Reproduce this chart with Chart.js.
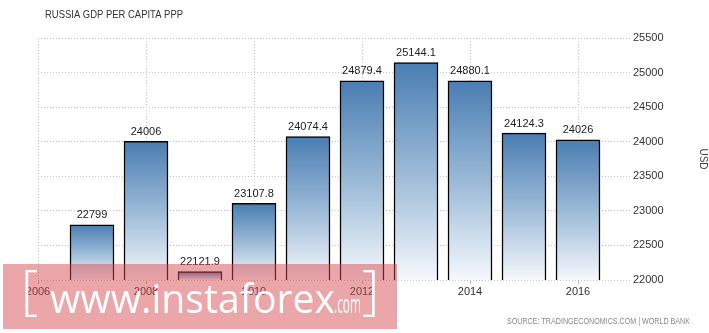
<!DOCTYPE html>
<html>
<head>
<meta charset="utf-8">
<script src="https://cdn.jsdelivr.net/npm/chart.js@4.4.1/dist/chart.umd.min.js"></script>
<style>
html,body{margin:0;padding:0;background:#fff;}
#wrap{position:relative;width:709px;height:333px;}
</style>
</head>
<body>
<div id="wrap"><canvas id="c" width="709" height="333"></canvas></div>
<script>
const years = [2007, 2008, 2009, 2010, 2011, 2012, 2013, 2014, 2015, 2016];
const gdpValues = [22799, 24006, 22121.9, 23107.8, 24074.4, 24879.4, 25144.1, 24880.1, 24124.3, 24026];
const valueLabels = ['22799', '24006', '22121.9', '23107.8', '24074.4', '24879.4', '25144.1', '24880.1', '24124.3', '24026'];
const yTicks = [22000, 22500, 23000, 23500, 24000, 24500, 25000, 25500];
const xTickYears = [2006, 2008, 2010, 2012, 2014, 2016];
const titleText = 'RUSSIA GDP PER CAPITA PPP';
const sourceText = 'SOURCE: TRADINGECONOMICS.COM | WORLD BANK';
const unitText = 'USD';

const FONT = "'Liberation Sans', Arial, sans-serif";

function barFill(ctx) {
  const chart = ctx.chart;
  const area = chart.chartArea;
  if (!area || ctx.parsed == null) return '#4a7eb3';
  const top = chart.scales.y.getPixelForValue(ctx.parsed.y);
  const g = chart.ctx.createLinearGradient(0, top, 0, area.bottom);
  g.addColorStop(0, '#4a7db2');
  g.addColorStop(0.5, '#9ab9d6');
  g.addColorStop(1, '#f5f8fc');
  return g;
}

const extras = {
  id: 'extras',
  afterDatasetsDraw(chart) {
    const c = chart.ctx;
    const meta = chart.getDatasetMeta(0);
    c.save();
    c.font = '11px ' + FONT;
    c.fillStyle = '#222';
    c.textAlign = 'center';
    c.textBaseline = 'alphabetic';
    meta.data.forEach((bar, i) => {
      c.fillText(valueLabels[i], bar.x, bar.y - 6.5);
    });
    c.restore();
  },
  afterDraw(chart) {
    const c = chart.ctx;
    c.save();
    // title
    c.fillStyle = '#333';
    c.textBaseline = 'alphabetic';
    c.textAlign = 'left';
    c.font = '10.5px ' + FONT;
    let w = c.measureText(titleText).width;
    c.save();
    c.translate(45, 17.5);
    c.scale(138 / w, 1);
    c.fillText(titleText, 0, 0);
    c.restore();
    // source
    c.fillStyle = '#888';
    c.font = '8.5px ' + FONT;
    w = c.measureText(sourceText).width;
    c.save();
    c.translate(507, 324);
    c.scale(183 / w, 1);
    c.fillText(sourceText, 0, 0);
    c.restore();
    // watermark
    c.fillStyle = 'rgba(214,68,76,0.48)';
    c.fillRect(3, 264, 394, 65);
    c.fillStyle = '#ffffff';
    c.font = "41px 'Open Sans', sans-serif";
    const main = 'www.instaforex';
    w = c.measureText(main).width;
    c.save();
    c.translate(50, 313);
    c.scale(285 / w, 1);
    c.fillText(main, 0, 0);
    c.restore();
    c.font = "25px 'Open Sans', sans-serif";
    const com = '.com';
    w = c.measureText(com).width;
    c.save();
    c.translate(334, 313);
    c.scale(27 / w, 1);
    c.fillText(com, 0, 0);
    c.restore();
    c.font = "300 54px 'Open Sans', sans-serif";
    c.fillText('[', 21, 308);
    c.fillText(']', 362, 308);
    c.restore();
  }
};

new Chart(document.getElementById('c'), {
  type: 'bar',
  data: {
    datasets: [{
      data: years.map((y, i) => ({ x: y, y: gdpValues[i] })),
      backgroundColor: barFill,
      borderColor: '#000',
      borderWidth: 1.5,
      borderSkipped: false,
      barThickness: 44
    }]
  },
  options: {
    responsive: false,
    animation: false,
    devicePixelRatio: 1,
    layout: { padding: { left: 38, top: 38, right: 0, bottom: 31 } },
    plugins: { legend: { display: false }, tooltip: { enabled: false }, title: { display: false } },
    scales: {
      x: {
        type: 'linear',
        offset: false,
        min: 2006,
        max: 2017,
        afterBuildTicks(scale) { scale.ticks = xTickYears.map(v => ({ value: v })); },
        afterFit(scale) { scale.height = 22; },
        grid: {
          offset: false,
          color: '#c4c4c4',
          tickColor: '#bbb',
          tickBorderDash: [],
          tickLength: 4,
          drawTicks: true
        },
        border: { display: false, dash: [1, 2] },
        ticks: {
          font: { size: 11, family: FONT },
          color: '#333',
          padding: 1,
          maxRotation: 0,
          autoSkip: false,
          callback: v => String(v)
        }
      },
      y: {
        position: 'right',
        min: 22000,
        max: 25500,
        afterBuildTicks(scale) { scale.ticks = yTicks.map(v => ({ value: v })); },
        afterFit(scale) { scale.width = 77; },
        grid: { color: '#c4c4c4', drawTicks: false },
        border: { display: false, dash: [1, 2] },
        title: {
          display: true,
          text: unitText,
          font: { size: 10, family: FONT },
          color: '#444',
          padding: { top: 0, bottom: 6 }
        },
        ticks: {
          font: { size: 11, family: FONT },
          color: '#333',
          padding: 1,
          callback: v => String(v)
        }
      }
    }
  },
  plugins: [extras]
});
</script>
</body>
</html>
